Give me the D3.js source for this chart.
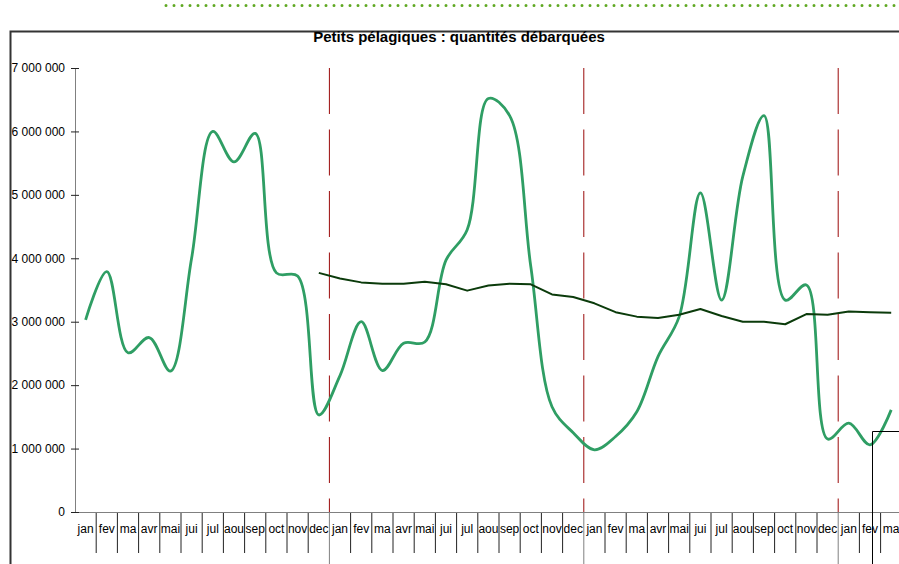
<!DOCTYPE html>
<html>
<head>
<meta charset="utf-8">
<script src="https://cdn.jsdelivr.net/npm/d3@7"></script>
<style>
	html, body { margin: 0; padding: 0; background: #fff; overflow: hidden; }
	svg { display: block; font-family: Arial, 'Liberation Sans', sans-serif; }
</style>
</head>
<body>
<div id="app"></div>
<script>
// month labels as printed on the axis (4 seasons, the last one cut off)
const monthLabels = ['jan', 'fev', 'ma', 'avr', 'mai', 'jui', 'jul', 'aou', 'sep', 'oct', 'nov', 'dec']
const categories = [
	...monthLabels, ...monthLabels, ...monthLabels,
	'jan', 'fev', 'ma',
]

// monthly landings (kg)
const landings = [
	3030000, 3790000, 2510000, 2750000, 2220000, 4000000, 6000000, 5520000, 5970000, 3770000, 3720000, 1530000,
	2150000, 3000000, 2230000, 2660000, 2680000, 3970000, 4450000, 6520000, 6250000, 3870000, 1660000, 1250000,
	980000, 1190000, 1580000, 2450000, 3080000, 5030000, 3340000, 5290000, 6250000, 3340000, 3580000, 1150000,
	1400000, 1060000, 1610000,
]

// 12 month moving average, starts at the first december
const movingAvgStart = 11
const movingAvg = [
	3770000,
	3680000, 3620000, 3600000, 3600000, 3630000, 3590000, 3490000, 3570000, 3600000, 3590000, 3430000, 3390000,
	3290000, 3150000, 3080000, 3060000, 3110000, 3200000, 3090000, 3000000, 3000000, 2960000, 3120000, 3110000,
	3160000, 3150000, 3140000,
]

const yTicks = [0, 1000000, 2000000, 3000000, 4000000, 5000000, 6000000, 7000000]
// index of the first month of each new season (red dashed separators)
const yearBreaks = [12, 24, 36]

const width = 899
const height = 564
const plot = { left: 75, top: 68, bottom: 512, cell: 21.2 }

const svg = d3.select('#app')
	.append('svg')
	.attr('width', width)
	.attr('height', height)

// outer frame of the sheet (left and top edges only are visible)
svg.append('path')
	.attr('d', `M10.5,${height} V31.5 H${width}`)
	.attr('fill', 'none')
	.attr('stroke', '#333')
	.attr('stroke-width', 2)

// dotted green rule at the very top
svg.append('line')
	.attr('x1', 166).attr('x2', width)
	.attr('y1', 5.5).attr('y2', 5.5)
	.attr('stroke', '#5fa822')
	.attr('stroke-width', 3)
	.attr('stroke-linecap', 'round')
	.attr('stroke-dasharray', '0 8')

// scales
const x = d3.scaleBand()
	.domain(categories.map((d, i) => i))
	.range([plot.left, plot.left + categories.length * plot.cell])
	.padding(0)

const y = d3.scaleLinear()
	.domain([0, 7000000])
	.range([plot.bottom, plot.top])

const xc = (i) => x(i) + x.bandwidth() / 2

// title
svg.append('text')
	.attr('x', 459)
	.attr('y', 42)
	.attr('text-anchor', 'middle')
	.style('font-size', '15px')
	.style('font-weight', 'bold')
	.text('Petits pélagiques : quantités débarquées')

// red dashed season separators
svg.selectAll('line.sep')
	.data(yearBreaks)
	.enter()
	.append('line')
	.attr('class', 'sep')
	.attr('x1', (d) => x(d)).attr('x2', (d) => x(d))
	.attr('y1', plot.top).attr('y2', plot.bottom)
	.attr('stroke', '#9b0a0a')
	.attr('stroke-width', 1)
	.attr('stroke-dasharray', '46 15.5')

// category dividers under the axis
const boundaries = d3.range(1, categories.length)
svg.selectAll('line.div')
	.data(boundaries)
	.enter()
	.append('line')
	.attr('class', 'div')
	.attr('x1', (d) => x(d)).attr('x2', (d) => x(d))
	.attr('y1', plot.bottom)
	.attr('y2', (d) => (yearBreaks.includes(d) ? height : 553))
	.attr('stroke', (d) => (yearBreaks.includes(d) ? '#808080' : '#222'))
	.attr('stroke-width', 1)

// x axis with month labels centred in their cells
const xAxis = d3.axisBottom(x)
	.tickSize(0)
	.tickPadding(12)
	.tickFormat((i) => categories[i])
const gx = svg.append('g')
	.attr('transform', `translate(0,${plot.bottom})`)
	.call(xAxis)
gx.select('.domain').attr('stroke', '#808080').attr('d', `M${plot.left},0.5H${width}`)
gx.selectAll('text')
	.attr('fill', '#000')
	.style('font-size', '12px')
	.style('font-family', 'Arial, "Liberation Sans", sans-serif')

// y axis, ticks crossing the axis line
const fmt = d3.formatLocale({ decimal: ',', thousands: ' ', grouping: [3], currency: ['', ''] }).format(',')
const yAxis = d3.axisLeft(y)
	.tickValues(yTicks)
	.tickSize(4)
	.tickPadding(6)
	.tickFormat(fmt)
const gy = svg.append('g')
	.attr('transform', `translate(${plot.left},0)`)
	.call(yAxis)
gy.select('.domain').attr('stroke', '#808080').attr('d', `M0.5,${plot.top}V${plot.bottom}`)
gy.selectAll('.tick line').attr('stroke', '#222').attr('x1', 4).attr('x2', -4)
gy.selectAll('text')
	.attr('fill', '#000')
	.style('font-size', '12px')
	.style('font-family', 'Arial, "Liberation Sans", sans-serif')

// landings, smoothed like the spreadsheet line
const smoothLine = d3.line()
	.x((d, i) => xc(i))
	.y((d) => y(d))
	.curve(d3.curveCatmullRom.alpha(0.5))

svg.append('path')
	.datum(landings)
	.attr('d', smoothLine)
	.attr('fill', 'none')
	.attr('stroke', '#2f9e64')
	.attr('stroke-width', 2.8)
	.attr('stroke-linejoin', 'round')

// moving average, straight segments
const avgLine = d3.line()
	.x((d, i) => xc(i + movingAvgStart))
	.y((d) => y(d))

svg.append('path')
	.datum(movingAvg)
	.attr('d', avgLine)
	.attr('fill', 'none')
	.attr('stroke', '#0b3b0b')
	.attr('stroke-width', 2)
	.attr('stroke-linejoin', 'round')

// outline of an overlapping box in the lower right corner
svg.append('path')
	.attr('d', `M872.5,${height} V431.5 H${width}`)
	.attr('fill', 'none')
	.attr('stroke', '#000')
	.attr('stroke-width', 1)
</script>
</body>
</html>
